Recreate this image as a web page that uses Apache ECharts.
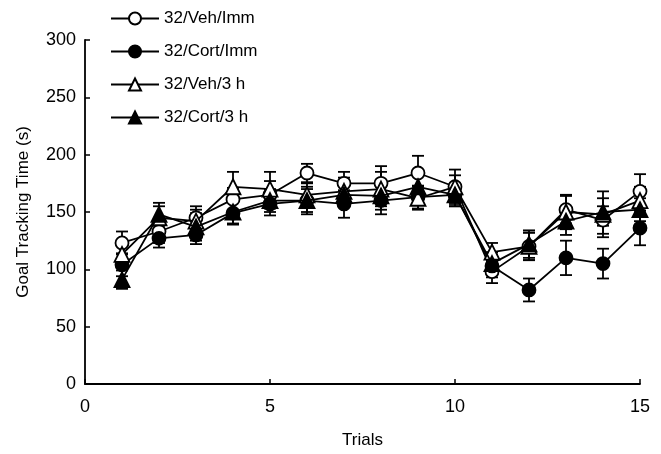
<!DOCTYPE html>
<html>
<head>
<meta charset="utf-8">
<script src="https://cdn.jsdelivr.net/npm/echarts@6/dist/echarts.min.js"></script>
<style>
  html, body { margin: 0; padding: 0; background: #fff; }
  #main { width: 661px; height: 454px; }
</style>
</head>
<body>
<div id="main"></div>
<script>
var trials = [1, 2, 3, 4, 5, 6, 7, 8, 9, 10, 11, 12, 13, 14, 15];

var vehImm = [123, 133, 145, 161, 165, 184, 175, 175, 184, 172, 98, 120, 152, 143, 168];
var cortImm = [104, 127, 130, 149, 157, 160, 157, 160, 163, 165, 103, 82, 110, 105, 136];
var veh3h = [113, 145, 142, 172, 170, 165, 168, 170, 162, 172, 115, 120, 150, 148, 160];
var cort3h = [91, 148, 137, 150, 160, 160, 165, 164, 172, 165, 105, 122, 142, 150, 152];

var vehImmErr = [10, 10, 10, 10, 12, 8, 10, 15, 15, 15, 10, 12, 12, 12, 15];
var cortImmErr = [10, 8, 8, 10, 10, 10, 12, 12, 10, 10, 10, 10, 15, 13, 15];
var veh3hErr = [10, 10, 10, 13, 15, 10, 12, 15, 10, 10, 8, 12, 15, 20, 12];
var cort3hErr = [8, 10, 12, 10, 10, 12, 10, 12, 10, 10, 10, 12, 12, 12, 10];

var groups = [
    {name: '32/Veh/Imm', values: vehImm, err: vehImmErr, symbol: 'circle', fill: '#fff', size: 13},
    {name: '32/Cort/Imm', values: cortImm, err: cortImmErr, symbol: 'circle', fill: '#000', size: 13},
    {name: '32/Veh/3 h', values: veh3h, err: veh3hErr, symbol: 'triangle', fill: '#fff', size: 15},
    {name: '32/Cort/3 h', values: cort3h, err: cort3hErr, symbol: 'triangle', fill: '#000', size: 15}
];

function pairs(values) {
    return trials.map(function (t, i) { return [t, values[i]]; });
}

function errData(values, err) {
    return trials.map(function (t, i) { return [t, values[i] - err[i], values[i] + err[i]]; });
}

function renderErr(params, api) {
    var x = api.value(0);
    var lo = api.coord([x, api.value(1)]);
    var hi = api.coord([x, api.value(2)]);
    var cap = 6;
    var style = {stroke: '#000', lineWidth: 1.8};
    return {
        type: 'group',
        children: [
            {type: 'line', shape: {x1: lo[0], y1: lo[1], x2: hi[0], y2: hi[1]}, style: style},
            {type: 'line', shape: {x1: lo[0] - cap, y1: lo[1], x2: lo[0] + cap, y2: lo[1]}, style: style},
            {type: 'line', shape: {x1: hi[0] - cap, y1: hi[1], x2: hi[0] + cap, y2: hi[1]}, style: style}
        ]
    };
}

var series = [];
groups.forEach(function (g) {
    series.push({
        type: 'custom',
        name: g.name + ' err',
        renderItem: renderErr,
        data: errData(g.values, g.err),
        z: 1,
        silent: true
    });
});
groups.forEach(function (g, k) {
    series.push({
        type: 'line',
        name: g.name,
        data: pairs(g.values),
        symbol: g.symbol,
        symbolSize: g.size,
        showAllSymbol: true,
        lineStyle: {color: '#000', width: 1.8},
        itemStyle: {color: g.fill, borderColor: '#000', borderWidth: 1.8},
        z: 3 + k
    });
});

var myChart = echarts.init(document.getElementById('main'));
myChart.setOption({
    animation: false,
    backgroundColor: '#fff',
    textStyle: {fontFamily: 'Liberation Sans, Arial, sans-serif'},
    grid: {left: 85, right: 21, top: 40, bottom: 69},
    legend: {
        orient: 'vertical',
        left: 105,
        top: 5,
        itemGap: 16,
        itemWidth: 48,
        itemHeight: 15,
        data: groups.map(function (g) { return g.name; }),
        textStyle: {fontSize: 17, color: '#000', fontFamily: 'Liberation Sans, Arial, sans-serif'}
    },
    xAxis: {
        type: 'value',
        min: 0,
        max: 15,
        interval: 5,
        name: 'Trials',
        nameLocation: 'middle',
        nameGap: 48,
        nameTextStyle: {fontSize: 17, color: '#000'},
        axisLine: {lineStyle: {color: '#000', width: 1.8}},
        axisTick: {inside: true, length: 5, lineStyle: {color: '#000', width: 1.5}},
        axisLabel: {fontSize: 18, color: '#000', margin: 14},
        splitLine: {show: false}
    },
    yAxis: {
        type: 'value',
        min: 0,
        max: 300,
        interval: 50,
        name: 'Goal Tracking Time (s)',
        nameLocation: 'middle',
        nameGap: 53,
        nameTextStyle: {fontSize: 17, color: '#000'},
        axisLine: {show: true, lineStyle: {color: '#000', width: 1.8}},
        axisTick: {show: true, inside: true, length: 5, lineStyle: {color: '#000', width: 1.5}},
        axisLabel: {fontSize: 18, color: '#000', margin: 9},
        splitLine: {show: false}
    },
    series: series
});
</script>
</body>
</html>
